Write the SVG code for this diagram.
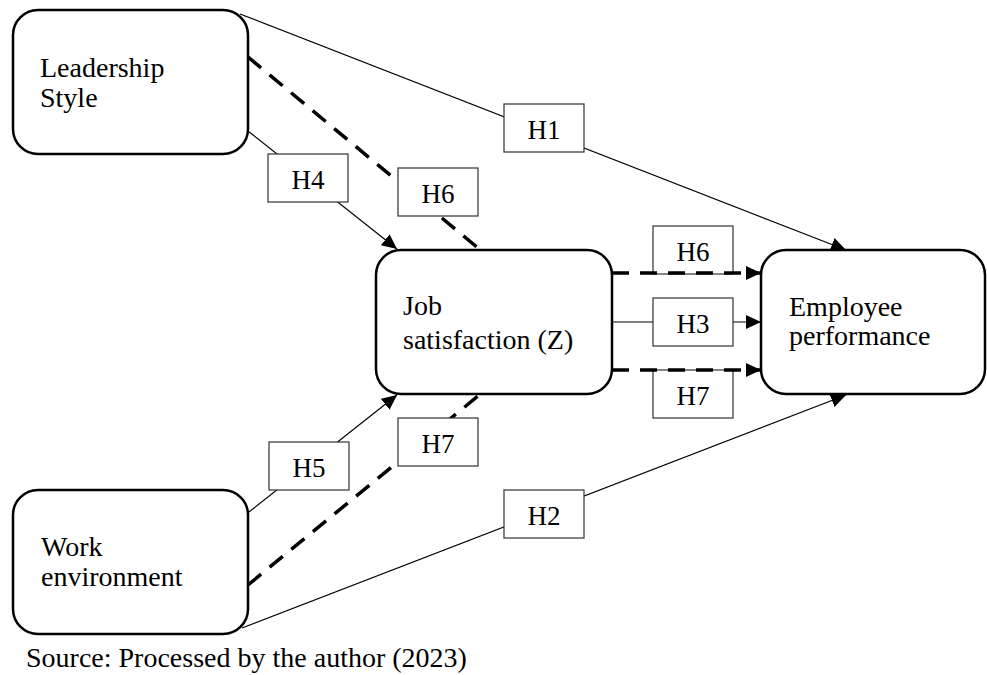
<svg xmlns="http://www.w3.org/2000/svg" width="987" height="675" viewBox="0 0 987 675">
<style>
  .node { fill: #fff; stroke: #000; stroke-width: 2.5; }
  .lbl { fill: #fff; stroke: #333; stroke-width: 1.2; }
  text { font-family: 'Liberation Serif', 'Times New Roman', serif; font-size: 28px; fill: #000; }
  .tc { text-anchor: middle; font-size: 27px; }
  .solid { stroke: #000; stroke-width: 1.2; fill: none; }
  .dash { stroke: #000; stroke-width: 3.5; fill: none; stroke-dasharray: 17 11; }
</style>
<defs>
  <marker id="arr" markerUnits="userSpaceOnUse" markerWidth="16" markerHeight="15" refX="15" refY="7" orient="auto">
    <path d="M0,0 L15,7 L0,14 z" fill="#000"/>
  </marker>
</defs>
<rect width="987" height="675" fill="#fff"/>

<g id="connectors">
  <line class="solid" x1="240" y1="14" x2="846" y2="250" marker-end="url(#arr)"/>
  <line class="solid" x1="242" y1="628" x2="846" y2="395" marker-end="url(#arr)"/>
  <line class="solid" x1="248" y1="131" x2="397" y2="249" marker-end="url(#arr)"/>
  <line class="solid" x1="249" y1="512" x2="397" y2="395" marker-end="url(#arr)"/>
  <line class="solid" x1="612" y1="322" x2="761" y2="322" marker-end="url(#arr)"/>
  <line class="dash" x1="248" y1="57" x2="478" y2="248"/>
  <line class="dash" x1="248" y1="585" x2="478" y2="396"/>
</g>

<g id="labels">
  <g id="lbl-H1"><rect class="lbl" x="504" y="104" width="80" height="48"/><text class="tc" x="544" y="139">H1</text></g>
  <g id="lbl-H2"><rect class="lbl" x="504" y="490" width="80" height="48"/><text class="tc" x="544" y="525">H2</text></g>
  <g id="lbl-H4"><rect class="lbl" x="268" y="154" width="80" height="48"/><text class="tc" x="308" y="189">H4</text></g>
  <g id="lbl-H6a"><rect class="lbl" x="398" y="168" width="80" height="48"/><text class="tc" x="438" y="203">H6</text></g>
  <g id="lbl-H5"><rect class="lbl" x="269" y="442" width="80" height="48"/><text class="tc" x="309" y="477">H5</text></g>
  <g id="lbl-H7a"><rect class="lbl" x="398" y="418" width="80" height="48"/><text class="tc" x="438" y="453">H7</text></g>
  <g id="lbl-H6b"><rect class="lbl" x="653" y="226" width="80" height="48"/><text class="tc" x="693" y="261">H6</text></g>
  <g id="lbl-H3"><rect class="lbl" x="653" y="298" width="80" height="48"/><text class="tc" x="693" y="333">H3</text></g>
  <g id="lbl-H7b"><rect class="lbl" x="653" y="370" width="80" height="48"/><text class="tc" x="693" y="405">H7</text></g>
</g>

<g id="connectors-top">
  <line class="dash" x1="612" y1="273" x2="761" y2="273" marker-end="url(#arr)"/>
  <line class="dash" x1="612" y1="370" x2="761" y2="370" marker-end="url(#arr)"/>
</g>

<g id="leadership">
  <rect class="node" x="13" y="10" width="235" height="144" rx="25"/>
  <text x="40" y="77">Leadership</text>
  <text x="40" y="107">Style</text>
</g>
<g id="work">
  <rect class="node" x="13" y="490" width="235" height="144" rx="25"/>
  <text x="41" y="556">Work</text>
  <text x="41" y="586">environment</text>
</g>
<g id="job">
  <rect class="node" x="376" y="250" width="236" height="144" rx="25"/>
  <text x="403" y="315">Job</text>
  <text x="403" y="349">satisfaction (Z)</text>
</g>
<g id="employee">
  <rect class="node" x="761" y="250" width="224" height="144" rx="25"/>
  <text x="789" y="316">Employee</text>
  <text x="789" y="345">performance</text>
</g>

<text x="26" y="667">Source: Processed by the author (2023)</text>
</svg>
